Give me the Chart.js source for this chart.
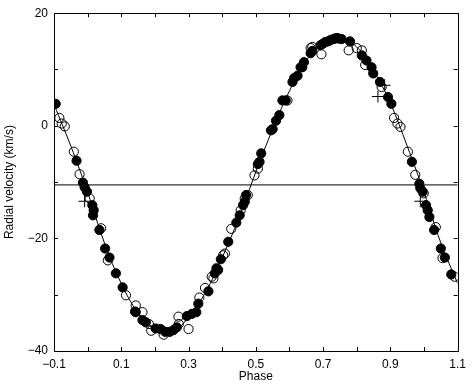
<!DOCTYPE html>
<html>
<head>
<meta charset="utf-8">
<script src="https://cdn.jsdelivr.net/npm/chart.js@4"></script>
<style>
  body { margin: 0; background: #fff; }
  #rvChart { display: block; }
</style>
</head>
<body>
<canvas id="rvChart" width="472" height="387"></canvas>
<script>
// Data block: phase / radial velocity
const filledPhase = [-0.095, -0.033, -0.014, -0.009, -0.002, 0.014, 0.018, 0.016, 0.035, 0.052,
    0.065, 0.084, 0.104, 0.141, 0.143, 0.163, 0.173, 0.202, 0.217, 0.231, 0.244, 0.255, 0.265,
    0.295, 0.31, 0.323, 0.329, 0.359, 0.378, 0.383, 0.388, 0.396, 0.418, 0.442, 0.452, 0.462,
    0.467, 0.471, 0.506, 0.511, 0.516, 0.545, 0.55, 0.56, 0.57, 0.579, 0.589, 0.609, 0.614,
    0.624, 0.633, 0.638, 0.643, 0.663, 0.668, 0.692, 0.7, 0.707, 0.715, 0.721, 0.73, 0.735,
    0.741, 0.746, 0.755, 0.78, 0.815, 0.829, 0.844, 0.849, 0.869, 0.893, 0.903, 0.964, 0.986,
    0.989, 0.996, 1.006, 1.011, 1.016, 1.03, 1.05, 1.062, 1.081];
const filledVel = [3.9, -6.2, -10.1, -10.9, -11.7, -14.1, -15.0, -15.9, -18.5, -21.8,
    -23.4, -26.2, -28.7, -33.0, -33.1, -34.5, -34.9, -36.0, -36.1, -36.6, -36.6, -36.3, -35.8,
    -33.8, -33.4, -33.1, -31.6, -29.4, -26.2, -25.3, -25.6, -23.7, -20.6, -17.2, -15.9, -14.1,
    -13.5, -12.3, -6.8, -6.4, -4.9, -0.8, -0.6, 0.9, 1.9, 4.5, 4.5, 7.8, 8.5,
    8.9, 10.4, 10.4, 11.3, 12.9, 13.3, 14.3, 14.6, 14.9, 15.0, 15.2, 15.4, 15.5,
    15.6, 15.5, 15.4, 15.0, 12.5, 11.6, 10.4, 9.3, 7.8, 5.1, 3.9, -6.4, -10.3,
    -11.1, -11.7, -14.1, -15.0, -16.2, -18.5, -21.8, -23.4, -26.4];

const openPhase = [-0.084, -0.077, -0.068, -0.041, -0.024, 0.006, 0.04, 0.06, 0.114, 0.143,
    0.163, 0.182, 0.189, 0.226, 0.27, 0.271, 0.3, 0.332, 0.349, 0.369, 0.374, 0.403, 0.408,
    0.427, 0.455, 0.467, 0.476, 0.496, 0.506, 0.594, 0.663, 0.668, 0.695, 0.776, 0.8, 0.815,
    0.825, 0.874, 0.911, 0.921, 0.93, 0.952, 0.974, 0.999, 1.035, 1.055, 1.091];
const openVel = [1.4, 0.4, -0.1, -4.6, -8.6, -12.9, -18.2, -23.9, -30.1, -31.9,
    -33.1, -35.2, -36.4, -37.1, -33.9, -35.2, -36.1, -30.5, -28.8, -26.8, -27.1, -23.0, -22.7,
    -18.3, -15.0, -12.9, -12.3, -8.8, -7.6, 4.5, 13.8, 14.0, 12.7, 13.4, 13.8, 13.4,
    10.8, 6.9, 1.4, 0.4, -0.2, -4.6, -8.7, -12.0, -18.0, -23.5, -26.8];

const plusPhase = [-0.009, 0.863, 0.883, 0.989];
const plusVel = [-13.4, 5.2, 7.2, -13.4];

// Fitted orbit curve, sampled off the figure
const curvePhase = [-0.1, -0.05, 0.0, 0.05, 0.1, 0.15, 0.2, 0.25, 0.3, 0.35, 0.4, 0.45, 0.5,
    0.55, 0.6, 0.65, 0.7, 0.75, 0.8, 0.85, 0.9, 0.95, 1.0, 1.05, 1.1];
const curveVel = [3.8, -3.6, -11.8, -20.8, -28.0, -33.2, -36.0, -36.6, -34.0, -29.6, -23.4,
    -16.3, -8.2, -0.6, 6.2, 11.6, 14.8, 15.6, 14.0, 9.8, 4.0, -3.6, -11.8, -20.8, -28.0];

// Systemic velocity line
const gammaPhase = [-0.1, 1.1];
const gammaVel = -10.5;

// Axis ticks
const xTickValues = [-0.1, 0.1, 0.3, 0.5, 0.7, 0.9, 1.1];
const yTickValues = [-40, -20, 0, 20];

const toPoints = (xs, ys) => xs.map((x, i) => ({x: x, y: Array.isArray(ys) ? ys[i] : ys}));
const fmt = v => String(v).replace('-', '\u2212');

// Frame + inward tick marks plugin
const frameTicks = {
    id: 'frameTicks',
    afterDraw(chart) {
        const {ctx, chartArea: a, scales: {x, y}} = chart;
        const len = 4;
        ctx.save();
        ctx.strokeStyle = '#000';
        ctx.lineWidth = 1;
        ctx.strokeRect(Math.round(a.left) + 0.5, Math.round(a.top) + 0.5,
            Math.round(a.right - a.left), Math.round(a.bottom - a.top));
        ctx.beginPath();
        for (let i = 0; i <= 12; i++) {
            const px = Math.round(x.getPixelForValue(-0.1 + i * 0.1)) + 0.5;
            ctx.moveTo(px, a.bottom); ctx.lineTo(px, a.bottom - len);
            ctx.moveTo(px, a.top); ctx.lineTo(px, a.top + len);
        }
        for (let v = -40; v <= 20; v += 10) {
            const py = Math.round(y.getPixelForValue(v)) + 0.5;
            ctx.moveTo(a.left, py); ctx.lineTo(a.left + len, py);
            ctx.moveTo(a.right, py); ctx.lineTo(a.right - len, py);
        }
        ctx.stroke();
        ctx.restore();
    }
};

const tickFont = {family: '"Liberation Sans", Arial, sans-serif', size: 12};

const rvConfig = {
    type: 'scatter',
    data: {
        datasets: [{
            label: 'Open',
            data: toPoints(openPhase, openVel),
            pointStyle: 'circle',
            pointRadius: 4.6,
            backgroundColor: 'rgba(0,0,0,0)',
            borderColor: '#000',
            pointBorderWidth: 1,
            order: 0
        }, {
            label: 'Plus',
            data: toPoints(plusPhase, plusVel),
            pointStyle: 'cross',
            pointRadius: 6,
            borderColor: '#000',
            pointBorderWidth: 1,
            order: 0
        }, {
            label: 'Filled',
            data: toPoints(filledPhase, filledVel),
            pointStyle: 'circle',
            pointRadius: 4.6,
            backgroundColor: '#000',
            borderColor: '#000',
            pointBorderWidth: 1,
            order: 1
        }, {
            label: 'Orbit',
            data: toPoints(curvePhase, curveVel),
            showLine: true,
            tension: 0.4,
            pointRadius: 0,
            borderColor: '#000',
            borderWidth: 1,
            order: 3
        }, {
            label: 'Gamma',
            data: toPoints(gammaPhase, gammaVel),
            showLine: true,
            pointRadius: 0,
            borderColor: '#000',
            borderWidth: 1,
            order: 4
        }]
    },
    options: {
        responsive: false,
        animation: false,
        events: [],
        layout: {padding: {top: 13, right: 10, left: 0, bottom: 0}},
        plugins: {
            legend: {display: false},
            tooltip: {enabled: false}
        },
        scales: {
            x: {
                type: 'linear',
                min: -0.1,
                max: 1.1,
                grid: {display: false, drawTicks: false},
                border: {display: false},
                afterBuildTicks: s => { s.ticks = xTickValues.map(v => ({value: v})); },
                afterFit: s => { s.height = 36; },
                ticks: {
                    color: '#000',
                    font: tickFont,
                    padding: 6,
                    maxRotation: 0,
                    callback: v => fmt(v.toFixed(1))
                },
                title: {
                    display: true,
                    text: 'Phase',
                    color: '#000',
                    font: tickFont,
                    padding: {top: 0, bottom: 3}
                }
            },
            y: {
                min: -40,
                max: 20,
                grid: {display: false, drawTicks: false},
                border: {display: false},
                afterBuildTicks: s => { s.ticks = yTickValues.map(v => ({value: v})); },
                afterFit: s => { s.width = 54; },
                ticks: {
                    color: '#000',
                    font: tickFont,
                    padding: 6,
                    callback: v => fmt(v)
                },
                title: {
                    display: true,
                    text: 'Radial velocity (km/s)',
                    color: '#000',
                    font: tickFont,
                    padding: {top: 2, bottom: 0}
                }
            }
        }
    },
    plugins: [frameTicks]
};

const rvChart = new Chart(document.getElementById('rvChart'), rvConfig);
</script>
</body>
</html>
